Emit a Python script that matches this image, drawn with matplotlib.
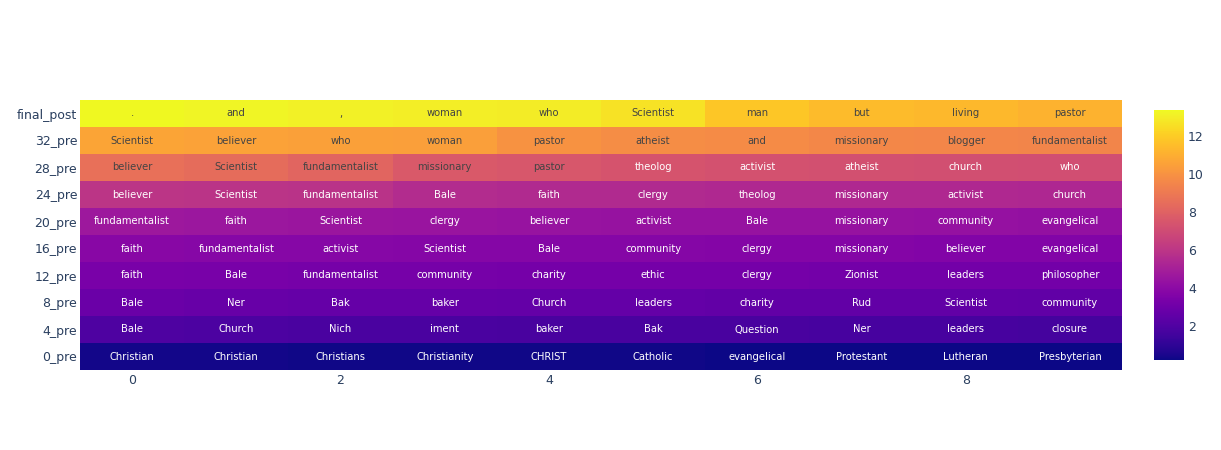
import matplotlib
matplotlib.use("Agg")
import matplotlib.pyplot as plt
import numpy as np

plt.rcParams['font.family'] = ['DejaVu Sans']

rows = ["0_pre", "4_pre", "8_pre", "12_pre", "16_pre", "20_pre", "24_pre", "28_pre", "32_pre", "final_post"]

words_0 = ["Christian", "Christian", "Christians", "Christianity", "CHRIST", "Catholic", "evangelical", "Protestant", "Lutheran", "Presbyterian"]
words_4 = ["Bale", "Church", "Nich", "iment", "baker", "Bak", "Question", "Ner", "leaders", "closure"]
words_8 = ["Bale", "Ner", "Bak", "baker", "Church", "leaders", "charity", "Rud", "Scientist", "community"]
words_12 = ["faith", "Bale", "fundamentalist", "community", "charity", "ethic", "clergy", "Zionist", "leaders", "philosopher"]
words_16 = ["faith", "fundamentalist", "activist", "Scientist", "Bale", "community", "clergy", "missionary", "believer", "evangelical"]
words_20 = ["fundamentalist", "faith", "Scientist", "clergy", "believer", "activist", "Bale", "missionary", "community", "evangelical"]
words_24 = ["believer", "Scientist", "fundamentalist", "Bale", "faith", "clergy", "theolog", "missionary", "activist", "church"]
words_28 = ["believer", "Scientist", "fundamentalist", "missionary", "pastor", "theolog", "activist", "atheist", "church", "who"]
words_32 = ["Scientist", "believer", "who", "woman", "pastor", "atheist", "and", "missionary", "blogger", "fundamentalist"]
words_final = [".", "and", ",", "woman", "who", "Scientist", "man", "but", "living", "pastor"]

vals_0 = [0.35, 0.33, 0.31, 0.3, 0.28, 0.27, 0.26, 0.24, 0.22, 0.21]
vals_4 = [1.95, 1.9, 1.85, 1.82, 1.8, 1.78, 1.76, 1.74, 1.72, 1.7]
vals_8 = [2.85, 2.75, 2.7, 2.68, 2.66, 2.64, 2.62, 2.6, 2.58, 2.56]
vals_12 = [3.35, 3.3, 3.27, 3.25, 3.23, 3.21, 3.2, 3.18, 3.16, 3.15]
vals_16 = [3.9, 3.85, 3.82, 3.8, 3.78, 3.76, 3.74, 3.72, 3.7, 3.68]
vals_20 = [4.65, 4.6, 4.55, 4.5, 4.45, 4.42, 4.4, 4.38, 4.35, 4.3]
vals_24 = [6.0, 5.95, 5.9, 5.6, 5.5, 5.5, 5.45, 5.45, 5.45, 5.4]
vals_28 = [8.6, 8.45, 8.15, 7.65, 7.55, 7.4, 7.3, 7.25, 7.2, 7.15]
vals_32 = [10.7, 10.6, 10.5, 10.45, 10.0, 9.8, 9.75, 9.6, 9.55, 9.5]
vals_final = [13.38, 13.25, 13.15, 13.05, 13.0, 12.7, 11.8, 11.45, 11.35, 11.15]

words = [words_0, words_4, words_8, words_12, words_16, words_20, words_24, words_28, words_32, words_final]
values = np.array([vals_0, vals_4, vals_8, vals_12, vals_16, vals_20, vals_24, vals_28, vals_32, vals_final])

fig = plt.figure(figsize=(12.21, 4.5), dpi=100)
W, H = 1221, 450
ax = fig.add_axes([80 / W, (H - 370) / H, (1122 - 80) / W, 270 / H])
vmin, vmax = values.min(), values.max()
cmap = plt.get_cmap("plasma")
im = ax.imshow(values, cmap=cmap, vmin=vmin, vmax=vmax, aspect="auto", origin="lower",
               extent=(-0.5, 9.5, -0.5, 9.5), interpolation="nearest")

txt_col = "#2a3f5f"
for i in range(values.shape[0]):
    for j in range(values.shape[1]):
        v = values[i, j]
        c = "#444444" if v > 7.5 else "white"
        ax.text(j, i, words[i][j], ha="center", va="center", fontsize=7.2, color=c)

ax.set_yticks(range(len(rows)))
ax.set_yticklabels(rows, fontsize=9, color=txt_col)
ax.set_xticks([0, 2, 4, 6, 8])
ax.set_xticklabels(["0", "2", "4", "6", "8"], fontsize=9, color=txt_col)
ax.tick_params(axis='y', length=0, pad=2)
ax.tick_params(axis='x', length=0, pad=3)
for s in ax.spines.values():
    s.set_visible(False)

cax = fig.add_axes([1154 / W, (H - 360) / H, 30 / W, 250 / H])
cb = fig.colorbar(im, cax=cax)
cb.outline.set_visible(False)
cb.set_ticks([2, 4, 6, 8, 10, 12])
cb.ax.tick_params(length=0, labelsize=9, labelcolor=txt_col, pad=3)

fig.savefig("out.png", dpi=100)
